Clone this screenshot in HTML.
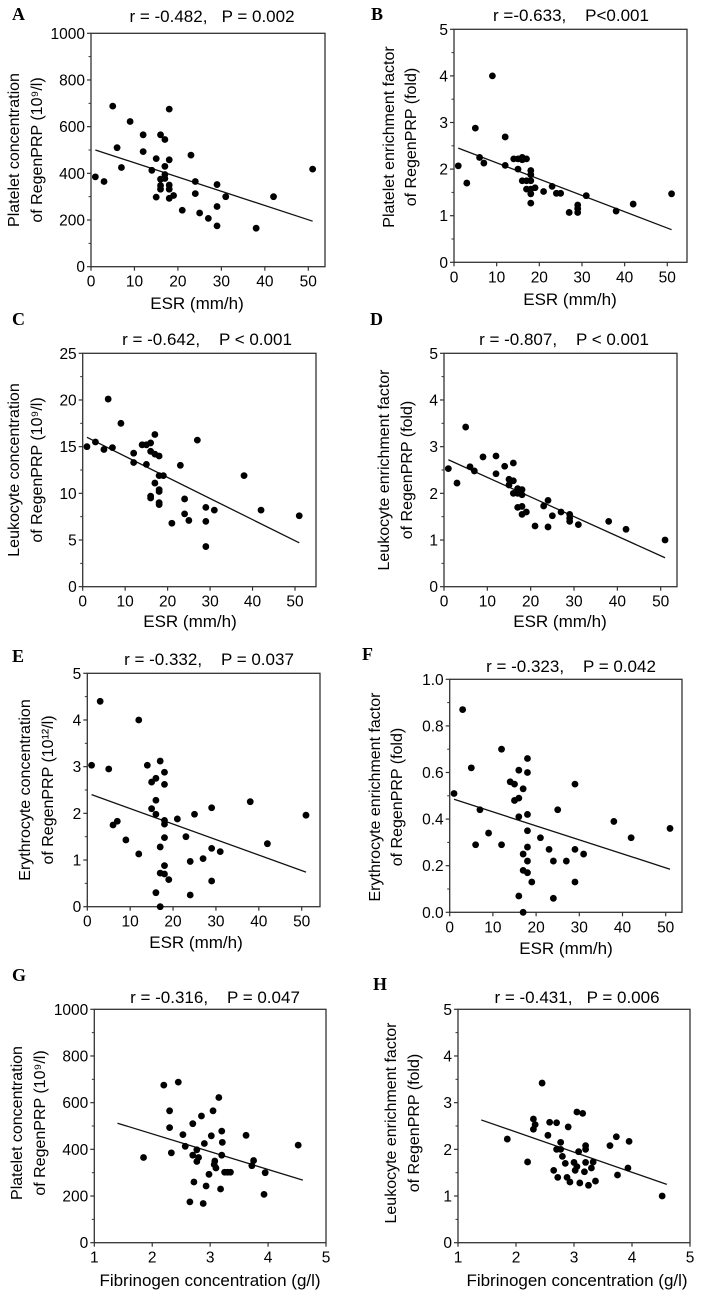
<!DOCTYPE html>
<html><head><meta charset="utf-8"><style>
html,body{margin:0;padding:0;background:#fff;}
svg{display:block;font-family:"Liberation Sans",Arial,sans-serif;}
.pre{white-space:pre;}
</style></head><body>
<svg id="fig" width="708" height="1298" viewBox="0 0 708 1298" xmlns="http://www.w3.org/2000/svg"></svg>
<script>
// ---- data ----
const aX=[1,3,5,6,7,9,12,12,14,15,15,16,16,16,16,17,17,17,17,18,18,18,18,18,19,21,23,24,24,25,27,29,29,29,31,38,42,51];
const aY=[385,365,688,510,425,622,565,493,413,463,298,565,375,348,332,545,430,395,378,675,458,350,332,293,305,242,478,365,313,230,207,352,258,175,300,165,300,418];
const aLine=[[1,500],[51,195]];
const bX=[1,3,5,6,7,9,12,12,14,15,15,16,16,16,17,17,17,18,18,18,18,18,18,19,21,23,24,25,27,29,29,29,31,38,42,51];
const bY=[2.07,1.70,2.88,2.25,2.13,4.0,2.69,2.08,2.22,2.22,2.0,2.25,2.2,1.75,2.22,1.75,1.57,1.97,1.88,1.75,1.57,1.47,1.27,1.6,1.52,1.63,1.48,1.48,1.07,1.23,1.15,1.07,1.43,1.1,1.25,1.47];
const bLine=[[1,2.45],[51,0.7]];
const cX=[1,3,5,6,7,9,12,12,14,15,15,16,16,16,16,17,17,17,18,18,18,18,18,18,19,21,23,24,24,25,27,29,29,29,31,38,42,51];
const cY=[15,15.5,14.7,20.1,14.9,17.5,14.3,13.3,15.2,15.2,13.1,15.4,14.5,9.7,9.5,16.3,14.2,11.1,14,11.9,10.4,10.2,9,8.8,11.9,6.8,13,9.4,7.8,7.1,15.7,8.5,7,4.3,8.2,11.9,8.2,7.6];
const cLine=[[1,16],[51,4.7]];
const dX=[1,3,5,6,7,9,12,12,14,15,15,16,16,16,17,17,17,18,18,18,18,19,21,23,24,24,25,27,29,29,29,31,38,42,51];
const dY=[2.53,2.22,3.42,2.57,2.48,2.78,2.8,2.42,2.58,2.3,2.18,2.65,2.27,2.0,2.1,2.0,1.7,2.08,1.97,1.72,1.55,1.6,1.3,1.73,1.85,1.28,1.52,1.6,1.55,1.47,1.4,1.33,1.4,1.23,1.0];
const dLine=[[1,2.72],[51,0.62]];
const eX=[1,3,5,6,7,9,12,12,14,15,15,16,16,16,16,17,17,17,17,18,18,18,18,18,18,18,19,21,23,24,24,25,27,29,29,29,31,38,42,51];
const eY=[3.03,4.4,2.95,1.75,1.83,1.43,4.0,1.13,3.03,2.67,2.1,2.75,2.28,1.98,0.3,3.12,1.28,0.72,0.0,2.88,2.62,1.85,1.77,1.48,0.88,0.7,0.58,1.88,1.5,0.97,0.25,1.98,1.03,2.12,1.25,0.55,1.18,2.25,1.35,1.96];
const eLine=[[1,2.4],[51,0.74]];
const fX=[1,3,5,6,7,9,12,12,14,15,15,16,16,16,16,17,17,17,17,18,18,18,18,18,18,18,19,21,23,24,24,25,27,29,29,29,31,38,42,51];
const fY=[0.51,0.87,0.62,0.29,0.44,0.34,0.70,0.29,0.56,0.55,0.48,0.61,0.49,0.41,0.07,0.53,0.25,0.18,0.0,0.66,0.60,0.42,0.35,0.28,0.22,0.17,0.13,0.32,0.27,0.22,0.06,0.44,0.22,0.55,0.27,0.13,0.25,0.39,0.32,0.36];
const fLine=[[1,0.485],[51,0.185]];
const gX=[1.85,2.2,2.3,2.3,2.33,2.45,2.53,2.57,2.65,2.7,2.7,2.72,2.77,2.77,2.8,2.85,2.88,2.9,2.93,2.98,3.02,3.05,3.07,3.08,3.1,3.15,3.18,3.2,3.2,3.21,3.25,3.3,3.35,3.62,3.72,3.75,3.93,3.95,4.52];
const gY=[365,675,565,493,385,688,463,413,175,510,375,260,398,348,365,543,168,425,243,293,458,565,335,350,320,622,230,478,375,430,302,302,302,460,330,352,207,300,418];
const gLine=[[1.4,512],[4.6,268]];
const hX=[1.85,2.2,2.3,2.3,2.33,2.45,2.55,2.58,2.65,2.7,2.7,2.72,2.77,2.77,2.8,2.85,2.88,2.9,2.93,3.0,3.02,3.05,3.05,3.08,3.1,3.15,3.18,3.2,3.2,3.2,3.25,3.3,3.33,3.37,3.62,3.73,3.75,3.93,3.95,4.52];
const hY=[2.22,1.73,2.65,2.43,2.53,3.42,2.3,2.58,1.55,2.57,2.0,1.4,2.15,2.0,1.85,1.7,1.4,2.48,1.3,1.72,1.55,2.8,1.63,1.95,1.28,2.77,1.52,2.08,2.0,1.72,1.23,1.6,1.73,1.32,2.08,2.27,1.45,1.6,2.17,1.0];
const hLine=[[1.4,2.63],[4.6,1.25]];
const esrTicks=["0","10","20","30","40","50"];
const fibTicks=["1","2","3","4","5"];
const t1000=["0","200","400","600","800","1000"];
const t5=["0","1","2","3","4","5"];
const t25=["0","5","10","15","20","25"];
const t1=["0.0","0.2","0.4","0.6","0.8","1.0"];

const NS="http://www.w3.org/2000/svg";
const svg=document.getElementById('fig');
function mk(tag,attrs,parent,txt){const e=document.createElementNS(NS,tag);for(const k in attrs)e.setAttribute(k,attrs[k]);if(txt!==undefined)e.textContent=txt;(parent||svg).appendChild(e);return e;}

const panels=[
 {id:'a',L:'A',lx:12,ly:20,xs:aX,ys:aY,line:aLine,x0:91,x1:308.3,xv0:0,xv1:50,right:325,y0:266.7,y1:33.3,yv1:1000,xt:esrTicks,yt:t1000,title:'r = -0.482,   P = 0.002',tx:212,ty:22,ya:['Platelet concentration','of RegenPRP (10⁹/l)'],yl:[19,42],yc:150,xtitle:'ESR (mm/h)',xtx:197,xty:309},
 {id:'b',L:'B',lx:371,ly:20,xs:bX,ys:bY,line:bLine,x0:454,x1:667.3,xv0:0,xv1:50,right:687,y0:262.3,y1:29.3,yv1:5,xt:esrTicks,yt:t5,title:'r =-0.633,    P<0.001',tx:571,ty:21,ya:['Platelet enrichment factor','of RegenPRP (fold)'],yl:[394,416],yc:137,xtitle:'ESR (mm/h)',xtx:570,xty:305},
 {id:'c',L:'C',lx:12,ly:325,xs:cX,ys:cY,line:cLine,x0:82.7,x1:295,xv0:0,xv1:50,right:316,y0:586.7,y1:353.3,yv1:25,xt:esrTicks,yt:t25,title:'r = -0.642,    P < 0.001',tx:207,ty:345,ya:['Leukocyte concentration','of RegenPRP (10⁹/l)'],yl:[19,42],yc:470,xtitle:'ESR (mm/h)',xtx:190,xty:627},
 {id:'d',L:'D',lx:370,ly:325,xs:dX,ys:dY,line:dLine,x0:444,x1:660.7,xv0:0,xv1:50,right:677,y0:586.7,y1:353.3,yv1:5,xt:esrTicks,yt:t5,title:'r = -0.807,    P < 0.001',tx:564,ty:345,ya:['Leukocyte enrichment factor','of RegenPRP (fold)'],yl:[389,412],yc:470,xtitle:'ESR (mm/h)',xtx:560,xty:627},
 {id:'e',L:'E',lx:12,ly:662,xs:eX,ys:eY,line:eLine,x0:87.3,x1:301.7,xv0:0,xv1:50,right:320,y0:906.7,y1:673.3,yv1:5,xt:esrTicks,yt:t5,title:'r = -0.332,    P = 0.037',tx:209,ty:665,ya:['Erythrocyte concentration','of RegenPRP (10¹²/l)'],yl:[30,53],yc:790,xtitle:'ESR (mm/h)',xtx:196,xty:948},
 {id:'f',L:'F',lx:362,ly:660,xs:fX,ys:fY,line:fLine,x0:449.7,x1:665.7,xv0:0,xv1:50,right:682,y0:912.3,y1:679.3,yv1:1,xt:esrTicks,yt:t1,title:'r = -0.323,    P = 0.042',tx:571,ty:672,ya:['Erythrocyte enrichment factor','of RegenPRP (fold)'],yl:[380,402],yc:797,xtitle:'ESR (mm/h)',xtx:566,xty:954},
 {id:'g',L:'G',lx:12,ly:981,xs:gX,ys:gY,line:gLine,x0:94.3,x1:326,xv0:1,xv1:5,right:326,y0:1242.7,y1:1009.3,yv1:1000,xt:fibTicks,yt:t1000,title:'r = -0.316,    P = 0.047',tx:215,ty:1003,ya:['Platelet concentration','of RegenPRP (10⁹/l)'],yl:[22,45],yc:1123,xtitle:'Fibrinogen concentration (g/l)',xtx:210,xty:1286},
 {id:'h',L:'H',lx:373,ly:990,xs:hX,ys:hY,line:hLine,x0:458,x1:690,xv0:1,xv1:5,right:690,y0:1242.7,y1:1009.3,yv1:5,xt:fibTicks,yt:t5,title:'r = -0.431,   P = 0.006',tx:577,ty:1003,ya:['Leukocyte enrichment factor','of RegenPRP (fold)'],yl:[396,419],yc:1123,xtitle:'Fibrinogen concentration (g/l)',xtx:577,xty:1286}
];

panels.forEach(p=>{
  const g=mk('g',{});
  
  
  const sx=v=>p.x0+(v-p.xv0)/(p.xv1-p.xv0)*(p.x1-p.x0);
  const sy=v=>p.y0-(v/p.yv1)*(p.y0-p.y1);
  const lab=mk('text',{x:p.lx,y:p.ly,'font-family':'Liberation Serif,serif','font-weight':'bold','font-size':18,fill:'#000'},g,p.L);
  
  
  const tt=mk('text',{x:p.tx,y:p.ty,'text-anchor':'middle','font-size':17,fill:'#000','class':'pre'},g,p.title);
  
  
  const fr=mk('rect',{x:p.x0,y:p.y1,width:p.right-p.x0,height:p.y0-p.y1,fill:'none',stroke:'#333','stroke-width':1.3},g);
  
  
  const n=p.yt.length-1;
  for(let i=0;i<=n;i++){
    const v=p.yv1*i/n, y=sy(v);
    mk('line',{x1:p.x0-4,x2:p.x0,y1:y,y2:y,stroke:'#333','stroke-width':1.2},g);
    if(i<n){const ym=sy(p.yv1*(i+0.5)/n);mk('line',{x1:p.x0-2.5,x2:p.x0,y1:ym,y2:ym,stroke:'#333','stroke-width':1},g);}
    const t=mk('text',{x:p.x0-6,y:y+5.5,'text-anchor':'end','font-size':15.5,fill:'#000'},g,p.yt[i]);
    
    
  }
  const m=p.xt.length-1;
  for(let i=0;i<=m;i++){
    const v=p.xv0+(p.xv1-p.xv0)*i/m, x=sx(v);
    mk('line',{x1:x,x2:x,y1:p.y0,y2:p.y0+4,stroke:'#333','stroke-width':1.2},g);
    const t=mk('text',{x:x,y:p.y0+20,'text-anchor':'middle','font-size':15.5,fill:'#000'},g,p.xt[i]);
    
    
  }
  const xa=mk('text',{x:p.xtx,y:p.xty,'text-anchor':'middle','font-size':17,fill:'#000'},g,p.xtitle);
  
  
  p.ya.forEach((s,k)=>{
    const t=mk('text',{x:p.yl[k],y:p.yc,'text-anchor':'middle','font-size':16,fill:'#000',transform:`rotate(-90 ${p.yl[k]} ${p.yc})`},g,s);
    
    
  });
  const rl=mk('line',{x1:sx(p.line[0][0]),y1:sy(p.line[0][1]),x2:sx(p.line[1][0]),y2:sy(p.line[1][1]),stroke:'#111','stroke-width':1.3},g);
  
  
  p.xs.forEach((xv,i)=>{
    const c=mk('circle',{cx:sx(xv),cy:sy(p.ys[i]),r:3.4,fill:'#000'},g);
    
    
  });
});
</script>
</body></html>
